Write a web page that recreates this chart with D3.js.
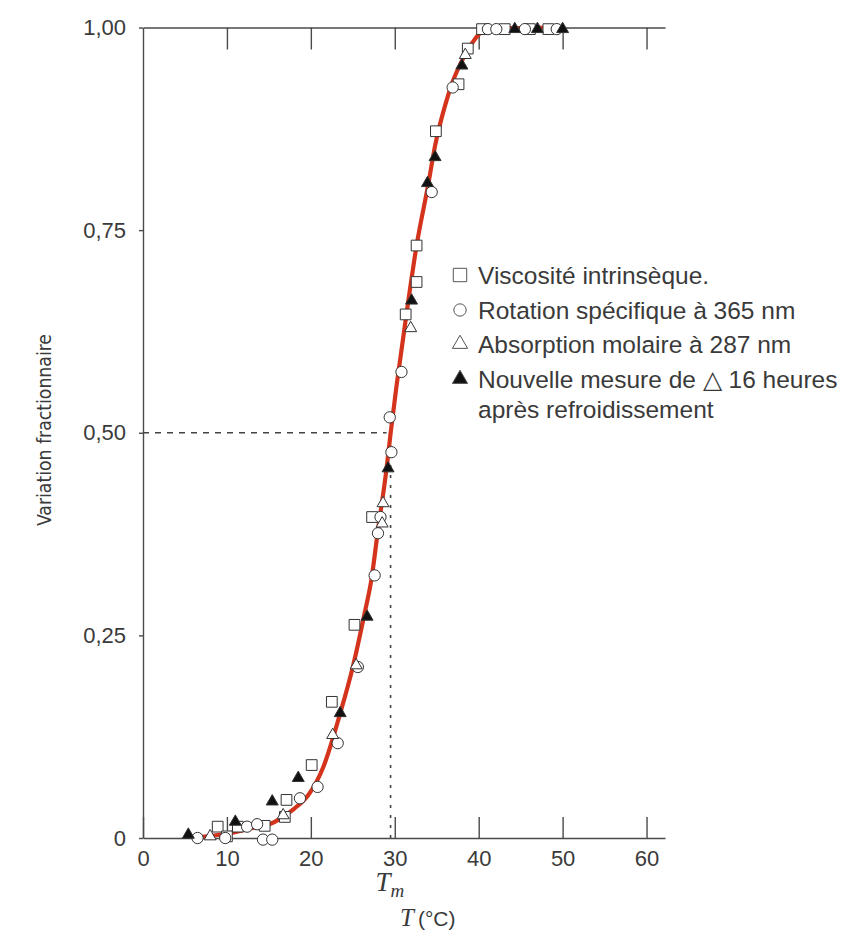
<!DOCTYPE html>
<meta charset="utf-8">
<style>
body { margin: 0; background: #fff; }
svg text { font-family: "Liberation Sans", Arial, sans-serif; fill: #3a3a3a; }
.axis text { font-size: 22px; }
.axis path, .axis line { stroke: #4a4a4a; stroke-width: 1.4px; }
.legend text { font-size: 24.5px; }
</style>
<svg width="851" height="933"></svg>
<script src="https://d3js.org/d3.v7.min.js"></script>
<script>

// fitted curve
var curveT = [6, 7.6, 9.8, 12.5, 15.7, 18, 19.7, 21.5, 23.5, 25.0, 26.4, 27.2, 28.0, 29.0, 29.5, 30.2, 31.4, 32.6, 34.0, 34.8, 36.0, 36.9, 38.1, 39.3, 40.3, 42, 50.3];
var curveF = [0, 0.002, 0.005, 0.011, 0.020, 0.036, 0.053, 0.088, 0.154, 0.211, 0.277, 0.318, 0.380, 0.454, 0.499, 0.557, 0.647, 0.731, 0.807, 0.854, 0.904, 0.933, 0.961, 0.982, 0.994, 0.999, 1.0];

// viscosité intrinsèque (squares)
var squareT = [8.9, 10.0, 11.3, 14.5, 16.9, 17.1, 20.1, 22.5, 25.2, 27.3, 31.3, 32.6, 32.6, 34.9, 37.6, 38.7, 40.4, 43.1, 46.1, 48.3];
var squareF = [0.014, 0.002, 0.014, 0.015, 0.026, 0.047, 0.090, 0.168, 0.263, 0.396, 0.646, 0.686, 0.731, 0.872, 0.930, 0.974, 0.998, 0.998, 0.998, 0.998];

// rotation spécifique (circles)
var circleT = [6.5, 9.8, 12.4, 13.6, 14.3, 15.4, 18.7, 20.8, 23.2, 25.6, 27.6, 28.0, 28.3, 29.6, 29.4, 30.8, 34.4, 36.9, 41.1, 42.1, 45.5, 49.3];
var circleF = [0, 0, 0.014, 0.017, -0.002, -0.002, 0.049, 0.063, 0.117, 0.211, 0.324, 0.376, 0.396, 0.476, 0.519, 0.575, 0.797, 0.926, 0.998, 0.998, 0.998, 0.998];

// absorption molaire (open triangles)
var triT = [8.0, 16.7, 22.6, 25.4, 28.5, 28.6, 31.9, 38.4];
var triF = [0.002, 0.028, 0.127, 0.213, 0.388, 0.413, 0.629, 0.966];

// nouvelle mesure (filled triangles)
var ftriT = [5.4, 11.0, 15.4, 18.5, 23.5, 26.7, 29.2, 32.0, 33.9, 34.8, 38.0, 44.3, 47.0, 50.0];
var ftriF = [0.004, 0.020, 0.045, 0.074, 0.154, 0.273, 0.456, 0.663, 0.808, 0.840, 0.953, 0.998, 0.998, 0.998];

var Tm = 29.5;
var xTicks = [0, 10, 20, 30, 40, 50, 60];
var yTicks = [0, 0.25, 0.5, 0.75, 1];
var yTickLabels = ["0", "0,25", "0,50", "0,75", "1,00"];
var legendLabels = ["Viscosité intrinsèque.", "Rotation spécifique à 365 nm", "Absorption molaire à 287 nm", "Nouvelle mesure de \u25B3 16 heures"];

var svg = d3.select("svg");

var x = d3.scaleLinear().domain([0, 62.2]).range([143, 665]);
var y = d3.scaleLinear().domain([0, 1]).range([838, 27.5]);

// axes
svg.append("g").attr("class", "axis")
    .attr("transform", "translate(0," + y(0) + ")")
    .call(d3.axisBottom(x).tickValues(xTicks).tickSizeInner(-21).tickSizeOuter(0).tickPadding(12));

svg.append("g").attr("class", "axis")
    .attr("transform", "translate(0," + y(1) + ")")
    .call(d3.axisTop(x).tickValues(xTicks.slice(1)).tickSizeInner(-22).tickSizeOuter(0).tickFormat(""));

svg.append("g").attr("class", "axis")
    .attr("transform", "translate(" + x(0) + ",0)")
    .call(d3.axisLeft(y).tickValues(yTicks).tickSizeInner(4).tickSizeOuter(0).tickPadding(13)
      .tickFormat(function(d, i) { return yTickLabels[i]; }));

svg.selectAll(".axis .tick text").attr("fill", "#404040");

// Tm guide lines
svg.append("line")
    .attr("x1", x(0)).attr("x2", x(Tm) - 4)
    .attr("y1", y(0.5)).attr("y2", y(0.5))
    .attr("stroke", "#444").attr("stroke-width", 1.3)
    .attr("stroke-dasharray", "6,6");
svg.append("line")
    .attr("x1", x(Tm)).attr("x2", x(Tm))
    .attr("y1", y(0)).attr("y2", y(0.5))
    .attr("stroke", "#444").attr("stroke-width", 1.6)
    .attr("stroke-dasharray", "3,7");

// curve
var line = d3.line()
    .x(function(d, i) { return x(curveT[i]); })
    .y(function(d) { return y(d); })
    .curve(d3.curveMonotoneX);

svg.append("path")
    .attr("d", line(curveF))
    .attr("fill", "none")
    .attr("stroke", "#d5341c")
    .attr("stroke-width", 4.2);

// markers
var sym = {
  square: d3.symbol().type(d3.symbolSquare).size(115),
  circle: d3.symbol().type(d3.symbolCircle).size(100),
  tri: d3.symbol().type(d3.symbolTriangle).size(62)
};

function plot(T, F, shape, filled) {
  svg.append("g").selectAll("path")
    .data(F)
    .join("path")
      .attr("transform", function(d, i) { return "translate(" + x(T[i]) + "," + y(d) + ")"; })
      .attr("d", sym[shape])
      .attr("fill", filled ? "#111" : "#fff")
      .attr("stroke", "#333")
      .attr("stroke-width", 1);
}
plot(squareT, squareF, "square", false);
plot(circleT, circleF, "circle", false);
plot(triT, triF, "tri", false);
plot(ftriT, ftriF, "tri", true);

// legend
var legend = svg.append("g").attr("class", "legend");
var legendShapes = [["square", false], ["circle", false], ["tri", false], ["tri", true]];
var legendY = [275, 310, 344, 379];
legendShapes.forEach(function(s, i) {
  legend.append("path")
    .attr("transform", "translate(460," + legendY[i] + ")")
    .attr("d", d3.symbol().type(s[0] === "square" ? d3.symbolSquare : s[0] === "circle" ? d3.symbolCircle : d3.symbolTriangle)
      .size(s[0] === "tri" ? 100 : s[0] === "square" ? 180 : 120))
    .attr("fill", s[1] ? "#111" : "#fff")
    .attr("stroke", "#555").attr("stroke-width", 1);
  legend.append("text")
    .attr("x", 478).attr("y", legendY[i]).attr("dy", "0.36em")
    .text(legendLabels[i]);
});
legend.append("text")
  .attr("x", 478).attr("y", 409).attr("dy", "0.36em")
  .text("après refroidissement");

// axis titles
svg.append("text")
  .attr("transform", "translate(51,430) rotate(-90)")
  .attr("text-anchor", "middle")
  .attr("textLength", 192)
  .attr("lengthAdjust", "spacingAndGlyphs")
  .style("font-family", "'Liberation Sans Narrow', 'DejaVu Sans Condensed', sans-serif")
  .style("font-size", "20px")
  .text("Variation fractionnaire");

var tm = svg.append("text")
  .attr("x", x(Tm) - 15).attr("y", 891)
  .style("font-family", "'Liberation Serif', serif")
  .style("font-style", "italic")
  .style("font-size", "27px");
tm.append("tspan").text("T");
tm.append("tspan").attr("dy", 6).style("font-size", "19px").text("m");

var tt = svg.append("text")
  .attr("x", 400).attr("y", 926)
  .style("font-size", "23px");
tt.append("tspan").style("font-family", "'Liberation Serif', serif").style("font-style", "italic").style("font-size", "25px").text("T");
tt.append("tspan").attr("dx", 4).style("font-size", "21px").text("(°C)");

</script>
